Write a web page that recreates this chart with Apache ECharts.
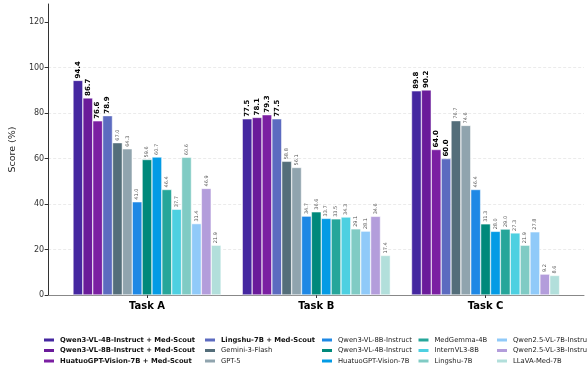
<!DOCTYPE html>
<html><head><meta charset="utf-8">
<script src="https://cdn.jsdelivr.net/npm/echarts@6/dist/echarts.min.js"></script>
<style>html,body{margin:0;padding:0;background:#fff}#c{width:587px;height:367px}</style>
</head><body><div id="c"></div>
<script>
const tasks = ['Task A', 'Task B', 'Task C'];
const yTicks = [0, 20, 40, 60, 80, 100, 120];
const models = [
  'Qwen3-VL-4B-Instruct + Med-Scout',
  'Qwen3-VL-8B-Instruct + Med-Scout',
  'HuatuoGPT-Vision-7B + Med-Scout',
  'Lingshu-7B + Med-Scout',
  'Gemini-3-Flash',
  'GPT-5',
  'Qwen3-VL-8B-Instruct',
  'Qwen3-VL-4B-Instruct',
  'HuatuoGPT-Vision-7B',
  'MedGemma-4B',
  'InternVL3-8B',
  'Lingshu-7B',
  'Qwen2.5-VL-7B-Instruct',
  'Qwen2.5-VL-3B-Instruct',
  'LLaVA-Med-7B'
];
const taskA = [94.4, 86.7, 76.6, 78.9, 67.0, 64.3, 41.0, 59.6, 60.7, 46.4, 37.7, 60.6, 31.4, 46.9, 21.9];
const taskB = [77.5, 78.1, 79.3, 77.5, 58.8, 56.1, 34.7, 36.6, 33.7, 33.5, 34.3, 29.1, 28.1, 34.6, 17.4];
const taskC = [89.8, 90.2, 64.0, 60.0, 76.7, 74.6, 46.4, 31.3, 28.0, 29.0, 27.3, 21.9, 27.8, 9.2, 8.6];
const colors = ['#4527A0', '#6A1B9A', '#7B1FA2', '#5C6BC0', '#546E7A', '#90A4AE', '#1E88E5', '#00897B',
  '#039BE5', '#26A69A', '#4DD0E1', '#80CBC4', '#90CAF9', '#B39DDB', '#B2DFDB'];
const boldCount = 4;

const FONT = 'DejaVu Sans';
const series = models.map((m, i) => ({
  name: m,
  type: 'bar',
  xAxisIndex: 1,
  yAxisIndex: 1,
  barGap: '0%',
  barCategoryGap: '12.5%',
  data: [taskA[i], taskB[i], taskC[i]],
  itemStyle: { color: colors[i], borderColor: '#ffffff', borderWidth: 0.5 },
  label: {
    show: true,
    position: 'top',
    rotate: 90,
    align: 'left',
    verticalAlign: 'middle',
    distance: 2,
    fontFamily: FONT,
    fontSize: i < boldCount ? 7 : 5,
    fontWeight: i < boldCount ? 'bold' : 'normal',
    color: i < boldCount ? '#000' : '#555',
    formatter: p => p.value.toFixed(1)
  }
}));

const colLefts = [42, 203, 320, 416.5, 495];
const legends = colLefts.map((l, c) => ({
  orient: 'vertical',
  left: l,
  top: 335,
  z: 20 - c,
  backgroundColor: 'rgba(0,0,0,0)',
  itemWidth: 12,
  itemHeight: 5,
  itemGap: 0.5,
  padding: 0,
  icon: 'rect',
  selectedMode: false,
  textStyle: { fontFamily: FONT, fontSize: 6.8, color: '#222', lineHeight: 10 },
  data: models.slice(c * 3, c * 3 + 3).map((m) => {
    const idx = models.indexOf(m);
    return idx < boldCount ? { name: m, textStyle: { fontWeight: 'bold', color: '#111' } } : { name: m };
  })
}));

const option = {
  animation: false,
  backgroundColor: '#fff',
  textStyle: { fontFamily: FONT },
  grid: [
    { left: 48, right: 3, top: 4, bottom: 72 },
    { left: 62.4, right: 16.8, top: 4, bottom: 72 }
  ],
  xAxis: [
    { gridIndex: 0, type: 'value', min: 0, max: 1, axisLine: { show: true, lineStyle: { color: '#888', width: 1 } },
      axisTick: { show: false }, axisLabel: { show: false }, splitLine: { show: false } },
    { gridIndex: 1, type: 'category', data: tasks, axisLine: { show: false },
      axisTick: { show: true, alignWithLabel: true, length: 3, lineStyle: { color: '#333' } },
      axisLabel: { fontFamily: FONT, fontSize: 10, fontWeight: 'bold', color: '#000', margin: 6 } }
  ],
  yAxis: [
    { gridIndex: 0, type: 'value', min: 0, max: 128, interval: 20,
      name: 'Score (%)', nameLocation: 'middle', nameGap: 26,
      nameTextStyle: { fontFamily: FONT, fontSize: 9.5, color: '#222' },
      axisLine: { show: true, lineStyle: { color: '#333', width: 1 } },
      axisTick: { show: true, length: 3.5, lineStyle: { color: '#333' }, customValues: yTicks },
      axisLabel: { fontFamily: FONT, fontSize: 8, color: '#333', margin: 4, customValues: yTicks },
      splitLine: { show: true, showMaxLine: false, lineStyle: { color: '#e3e3e3', width: 0.7, type: [3, 2] } } },
    { gridIndex: 1, type: 'value', min: 0, max: 128, show: false, splitLine: { show: false } }
  ],
  legend: legends,
  series: series
};
const chart = echarts.init(document.getElementById('c'), null, { renderer: 'canvas' });
chart.setOption(option);
</script></body></html>
